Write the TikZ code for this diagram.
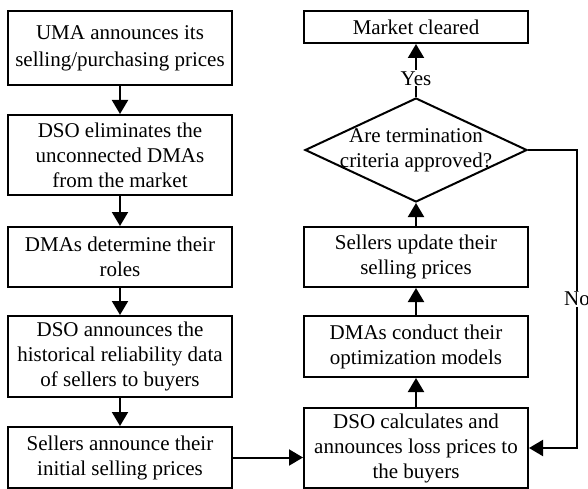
\documentclass[tikz,border=0pt]{standalone}
\usepackage{fontspec}
\setmainfont{Liberation Serif}
\usetikzlibrary{shapes.geometric,arrows.meta}
\begin{document}
\begin{tikzpicture}[x=1pt,y=-1pt,
  every node/.style={font=\fontsize{21}{25}\selectfont},
  stepbox/.style={draw,line width=2pt,rectangle,minimum width=224pt,inner sep=0pt,align=center},
  flow/.style={line width=2pt,-{Triangle[width=16pt,length=14pt]}},
  lbl/.style={fill=white,inner sep=1pt}]
\useasboundingbox (0,0) rectangle (588,489);
% left column
\node[stepbox,minimum height=74pt] (s1) at (120,48) {UMA announces its\\[2pt]selling/purchasing prices};
\node[stepbox,minimum height=80pt] (s2) at (120,155) {DSO eliminates the\\unconnected DMAs\\from the market};
\node[stepbox,minimum height=60pt] (s3) at (120,257) {DMAs determine their\\roles};
\node[stepbox,minimum height=81pt] (s4) at (120,356.5) {DSO announces the\\historical reliability data\\of sellers to buyers};
\node[stepbox,minimum height=61pt] (s5) at (120,457.5) {Sellers announce their\\initial selling prices};
% right column
\node[stepbox,minimum height=80pt] (r1) at (416,448) {DSO calculates and\\announces loss prices to\\the buyers};
\node[stepbox,minimum height=61pt] (r2) at (416,346.5) {DMAs conduct their\\optimization models};
\node[stepbox,minimum height=60pt] (r3) at (416,257) {Sellers update their\\selling prices};
\node[draw,line width=2pt,diamond,minimum width=222pt,minimum height=104pt,inner sep=0pt] (dec) at (416,150) {};
\node[align=center] (dectext) at (dec) {Are termination\\criteria approved?};
\node[stepbox,minimum height=32pt] (done) at (416,27) {Market cleared};
\coordinate (turn) at (577,150);
% connectors
\draw[flow] (s1) -- (s2);
\draw[flow] (s2) -- (s3);
\draw[flow] (s3) -- (s4);
\draw[flow] (s4) -- (s5);
\draw[flow] (s5.east) -- (s5.east -| r1.west);
\draw[flow] (r1) -- (r2);
\draw[flow] (r2) -- (r3);
\draw[flow] (r3) -- (dec.south);
\draw[flow] (dec.north) -- node[lbl,pos=0.35] (yes) {Yes} (done);
\draw[flow] (dec.east) -- (turn) |- node[lbl,pos=0.25] (no) {No} (r1.east);
\end{tikzpicture}
\end{document}
